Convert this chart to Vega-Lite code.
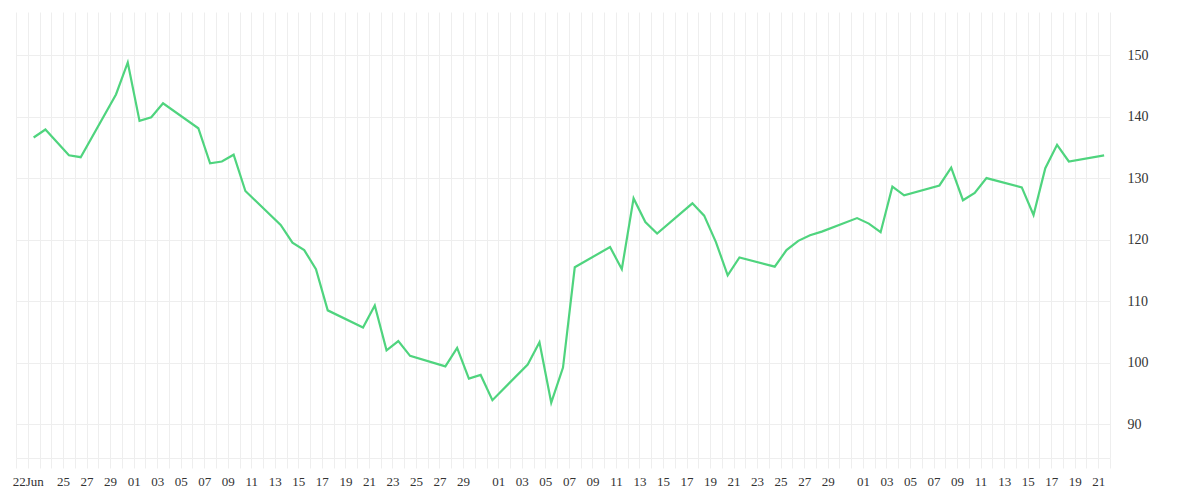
{
  "$schema": "https://vega.github.io/schema/vega-lite/v6.json",
  "width": 1094,
  "height": 446,
  "autosize": "none",
  "padding": {"left": 16, "top": 12, "right": 90, "bottom": 42},
  "background": "white",
  "config": {"view": {"stroke": null}},
  "data": {
    "values": [
      {"date": "2023-06-22T12:00:00Z", "value": 136.6},
      {"date": "2023-06-23T12:00:00Z", "value": 137.9},
      {"date": "2023-06-25T12:00:00Z", "value": 133.7},
      {"date": "2023-06-26T12:00:00Z", "value": 133.4},
      {"date": "2023-06-29T12:00:00Z", "value": 143.6},
      {"date": "2023-06-30T12:00:00Z", "value": 148.8},
      {"date": "2023-07-01T12:00:00Z", "value": 139.3},
      {"date": "2023-07-02T12:00:00Z", "value": 139.9},
      {"date": "2023-07-03T12:00:00Z", "value": 142.15},
      {"date": "2023-07-06T12:00:00Z", "value": 138.1},
      {"date": "2023-07-07T12:00:00Z", "value": 132.4},
      {"date": "2023-07-08T12:00:00Z", "value": 132.7},
      {"date": "2023-07-09T12:00:00Z", "value": 133.8},
      {"date": "2023-07-10T12:00:00Z", "value": 127.9},
      {"date": "2023-07-13T12:00:00Z", "value": 122.4},
      {"date": "2023-07-14T12:00:00Z", "value": 119.5},
      {"date": "2023-07-15T12:00:00Z", "value": 118.3},
      {"date": "2023-07-16T12:00:00Z", "value": 115.2},
      {"date": "2023-07-17T12:00:00Z", "value": 108.5},
      {"date": "2023-07-20T12:00:00Z", "value": 105.7},
      {"date": "2023-07-21T12:00:00Z", "value": 109.3},
      {"date": "2023-07-22T12:00:00Z", "value": 102.0},
      {"date": "2023-07-23T12:00:00Z", "value": 103.5},
      {"date": "2023-07-24T12:00:00Z", "value": 101.1},
      {"date": "2023-07-27T12:00:00Z", "value": 99.4},
      {"date": "2023-07-28T12:00:00Z", "value": 102.4},
      {"date": "2023-07-29T12:00:00Z", "value": 97.4},
      {"date": "2023-07-30T12:00:00Z", "value": 98.0},
      {"date": "2023-07-31T12:00:00Z", "value": 93.9},
      {"date": "2023-08-03T12:00:00Z", "value": 99.7},
      {"date": "2023-08-04T12:00:00Z", "value": 103.3},
      {"date": "2023-08-05T12:00:00Z", "value": 93.5},
      {"date": "2023-08-06T12:00:00Z", "value": 99.2},
      {"date": "2023-08-07T12:00:00Z", "value": 115.5},
      {"date": "2023-08-10T12:00:00Z", "value": 118.8},
      {"date": "2023-08-11T12:00:00Z", "value": 115.2},
      {"date": "2023-08-12T12:00:00Z", "value": 126.7},
      {"date": "2023-08-13T12:00:00Z", "value": 122.85},
      {"date": "2023-08-14T12:00:00Z", "value": 121.0},
      {"date": "2023-08-17T12:00:00Z", "value": 125.9},
      {"date": "2023-08-18T12:00:00Z", "value": 123.9},
      {"date": "2023-08-19T12:00:00Z", "value": 119.6},
      {"date": "2023-08-20T12:00:00Z", "value": 114.2},
      {"date": "2023-08-21T12:00:00Z", "value": 117.1},
      {"date": "2023-08-24T12:00:00Z", "value": 115.6},
      {"date": "2023-08-25T12:00:00Z", "value": 118.3},
      {"date": "2023-08-26T12:00:00Z", "value": 119.8},
      {"date": "2023-08-27T12:00:00Z", "value": 120.7},
      {"date": "2023-08-28T12:00:00Z", "value": 121.3},
      {"date": "2023-08-31T12:00:00Z", "value": 123.5},
      {"date": "2023-09-01T12:00:00Z", "value": 122.6},
      {"date": "2023-09-02T12:00:00Z", "value": 121.2},
      {"date": "2023-09-03T12:00:00Z", "value": 128.6},
      {"date": "2023-09-04T12:00:00Z", "value": 127.2},
      {"date": "2023-09-07T12:00:00Z", "value": 128.8},
      {"date": "2023-09-08T12:00:00Z", "value": 131.7},
      {"date": "2023-09-09T12:00:00Z", "value": 126.4},
      {"date": "2023-09-10T12:00:00Z", "value": 127.6},
      {"date": "2023-09-11T12:00:00Z", "value": 130.0},
      {"date": "2023-09-14T12:00:00Z", "value": 128.5},
      {"date": "2023-09-15T12:00:00Z", "value": 124.0},
      {"date": "2023-09-16T12:00:00Z", "value": 131.6},
      {"date": "2023-09-17T12:00:00Z", "value": 135.4},
      {"date": "2023-09-18T12:00:00Z", "value": 132.7},
      {"date": "2023-09-21T12:00:00Z", "value": 133.7}
    ]
  },
  "mark": {"type": "line", "color": "#4fd47e", "strokeWidth": 2.2},
  "encoding": {
    "x": {
      "field": "date",
      "type": "temporal",
      "title": null,
      "scale": {
        "type": "utc",
        "domain": ["2023-06-21T00:00:00Z", "2023-09-22T00:00:00Z"],
        "nice": false
      },
      "axis": {
        "tickCount": {"interval": "day", "step": 1},
        "grid": true,
        "gridColor": "#eeeeee",
        "domainColor": "#eeeeee",
        "tickColor": "#eeeeee",
        "tickSize": 10,
        "labelPadding": 7,
        "labelOverlap": false,
        "labelFlush": false,
        "labelFont": "Liberation Serif",
        "labelFontSize": 13,
        "labelColor": "#333333",
        "labelExpr": "utcmonth(datum.value) == 5 && utcdate(datum.value) == 22 ? '22Jun' : (utcdate(datum.value) % 2 == 1 && utcdate(datum.value) != 31 && !(utcmonth(datum.value) == 5 && utcdate(datum.value) < 25) && !(utcmonth(datum.value) == 8 && utcdate(datum.value) > 21) ? utcFormat(datum.value, '%d') : '')"
      }
    },
    "y": {
      "field": "value",
      "type": "quantitative",
      "title": null,
      "scale": {"domain": [84.5, 157], "nice": false, "zero": false},
      "axis": {
        "orient": "right",
        "values": [90, 100, 110, 120, 130, 140, 150],
        "grid": true,
        "gridColor": "#eeeeee",
        "domain": false,
        "ticks": false,
        "labelPadding": 17,
        "labelFont": "Liberation Serif",
        "labelFontSize": 14,
        "labelColor": "#333333"
      }
    }
  }
}
